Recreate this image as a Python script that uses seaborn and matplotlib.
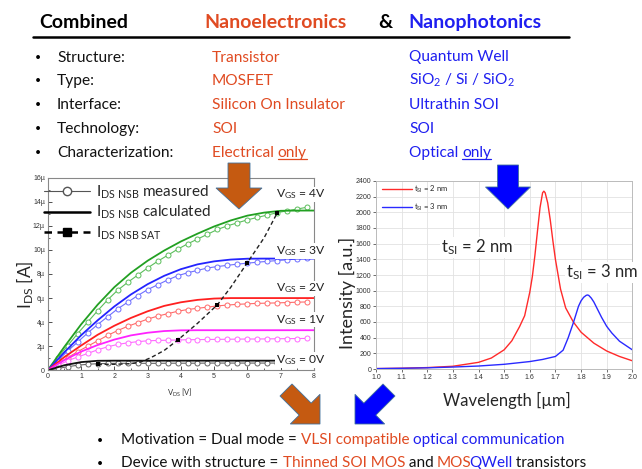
import matplotlib
matplotlib.use("Agg")
import matplotlib.pyplot as plt
import seaborn as sns
from matplotlib.lines import Line2D
from matplotlib.patches import FancyArrow
from matplotlib.transforms import IdentityTransform
from matplotlib.font_manager import findfont, FontProperties
from matplotlib.ft2font import FT2Font, LOAD_NO_HINTING

# ---------------- data ----------------
# Left chart: I_DS (in µA) vs V_DS (V)
calc_v = [0.0, 0.5, 1.0, 1.5, 2.0, 2.5, 3.0, 3.5, 4.0, 4.5, 5.0, 5.5, 6.0, 6.5, 7.0, 7.5, 8.0]
calc_4v = [0.0, 1.95, 3.8, 5.45, 6.9, 8.1, 9.1, 9.95, 10.7, 11.35, 11.95, 12.45, 12.85, 13.1, 13.25, 13.27, 13.27]
calc_3v = [0.0, 1.5, 2.9, 4.15, 5.3, 6.3, 7.15, 7.85, 8.4, 8.8, 9.05, 9.2, 9.27, 9.28, 9.28, 9.28, 9.28]
calc_2v = [0.0, 1.1, 2.05, 2.95, 3.7, 4.35, 4.9, 5.35, 5.65, 5.85, 5.96, 6.0, 6.0, 6.0, 6.0, 6.0, 6.0]
calc_1v = [0.0, 0.85, 1.55, 2.1, 2.55, 2.9, 3.12, 3.26, 3.32, 3.33, 3.33, 3.33, 3.33, 3.33, 3.33, 3.33, 3.33]
calc0_v = [0.0, 0.5, 1.0, 1.5, 2.0, 2.5, 3.0, 3.5, 4.0, 4.5, 5.0, 5.5, 6.0, 6.5, 6.9]
calc_0v = [0.0, 0.42, 0.68, 0.79, 0.8, 0.8, 0.8, 0.8, 0.8, 0.8, 0.8, 0.8, 0.8, 0.8, 0.8]

meas_v = [0.0, 0.3, 0.6, 0.9, 1.2, 1.5, 1.8, 2.1, 2.4, 2.7, 3.0, 3.3, 3.6, 3.9, 4.2, 4.5,
          4.8, 5.1, 5.4, 5.7, 6.0, 6.3, 6.6, 6.9, 7.2, 7.5, 7.8]
meas_4v = [0.0, 1.05, 2.05, 3.05, 4.0, 4.95, 5.85, 6.65, 7.3, 7.9, 8.5, 9.05, 9.55, 10.05, 10.5, 10.9,
           11.3, 11.7, 12.0, 12.25, 12.5, 12.7, 12.9, 13.1, 13.25, 13.4, 13.55]
meas_3v = [0.0, 0.8, 1.6, 2.35, 3.1, 3.8, 4.45, 5.1, 5.65, 6.2, 6.7, 7.1, 7.5, 7.85, 8.1, 8.3,
           8.5, 8.62, 8.72, 8.82, 8.9, 8.98, 9.05, 9.12, 9.18, 9.25, 9.32]
meas_2v = [0.0, 0.55, 1.05, 1.55, 2.0, 2.45, 2.9, 3.3, 3.65, 3.95, 4.25, 4.5, 4.7, 4.9, 5.05, 5.15,
           5.25, 5.35, 5.42, 5.48, 5.52, 5.56, 5.58, 5.6, 5.63, 5.66, 5.68]
meas_1v = [0.0, 0.4, 0.8, 1.1, 1.4, 1.7, 1.95, 2.15, 2.28, 2.38, 2.45, 2.48, 2.5, 2.52, 2.54, 2.55,
           2.56, 2.57, 2.58, 2.59, 2.6, 2.6, 2.61, 2.62, 2.63, 2.64, 2.65]
meas0_v = [0.0, 0.3, 0.6, 0.9, 1.2, 1.5, 1.8, 2.1, 2.4, 2.7, 3.0, 3.3, 3.6, 3.9, 4.2, 4.5,
           4.8, 5.1, 5.4, 5.7, 6.0, 6.3, 6.6, 6.9]
meas_0v = [0.0, 0.15, 0.3, 0.42, 0.5, 0.55, 0.57, 0.58, 0.58, 0.58, 0.58, 0.58, 0.59, 0.59, 0.59, 0.59,
           0.6, 0.6, 0.6, 0.6, 0.6, 0.6, 0.6, 0.6]

sat_curve_v = [1.5, 2.0, 2.5, 2.8, 3.1, 3.5, 3.9, 4.5, 5.1, 5.5, 6.0, 6.5, 6.9]
sat_curve_i = [0.5, 0.5, 0.55, 0.7, 1.05, 1.65, 2.5, 3.9, 5.45, 6.9, 8.95, 11.0, 13.1]
sat_pts_v = [1.5, 3.9, 5.1, 6.0, 6.9]
sat_pts_i = [0.5, 2.5, 5.45, 8.95, 13.1]

vgs_labels = ["4V", "3V", "2V", "1V", "0V"]
i_ticks = [0, 2, 4, 6, 8, 10, 12, 14, 16]
i_ticklabels = ["0", "2µ", "4µ", "6µ", "8µ", "10µ", "12µ", "14µ", "16µ"]

# Right chart: intensity vs wavelength
wl_2nm = [1.0, 1.1, 1.2, 1.3, 1.4, 1.45, 1.5, 1.53, 1.56, 1.58, 1.6, 1.61, 1.62, 1.63, 1.64,
          1.65, 1.655, 1.66, 1.67, 1.68, 1.69, 1.7, 1.72, 1.74, 1.77, 1.8, 1.85, 1.9, 1.95, 2.0]
int_2nm = [5, 10, 18, 35, 85, 140, 245, 360, 540, 680, 980, 1180, 1450, 1760, 2060,
           2250, 2270, 2250, 2120, 1900, 1640, 1400, 1020, 780, 600, 470, 330, 230, 160, 105]
wl_3nm = [1.0, 1.1, 1.2, 1.3, 1.4, 1.5, 1.6, 1.65, 1.7, 1.73, 1.75, 1.77, 1.79, 1.8, 1.81,
          1.82, 1.825, 1.83, 1.84, 1.85, 1.86, 1.88, 1.9, 1.92, 1.95, 2.0]
int_3nm = [5, 9, 15, 25, 38, 60, 95, 122, 160, 240, 400, 590, 800, 870, 915,
           940, 945, 940, 905, 855, 790, 660, 545, 460, 355, 245]
wl_ticks = [1.0, 1.1, 1.2, 1.3, 1.4, 1.5, 1.6, 1.7, 1.8, 1.9, 2.0]
int_ticks = [0, 200, 400, 600, 800, 1000, 1200, 1400, 1600, 1800, 2000, 2200, 2400]

# ---------------- style ----------------
sns.set_theme(style="white")
plt.rcParams['font.family'] = ['Lato', 'DejaVu Sans']
plt.rcParams['mathtext.fontset'] = 'custom'
plt.rcParams['mathtext.rm'] = 'Lato'
plt.rcParams['mathtext.it'] = 'Lato:italic'
plt.rcParams['mathtext.bf'] = 'Lato:bold'

W, H = 642, 469
fig = plt.figure(figsize=(W / 100, H / 100), dpi=100)
fig.patch.set_facecolor('white')


def fx(x):
    return x / W


def fy(y):
    return 1 - y / H


ORANGE_T = '#E04B22'
BLUE_T = '#1F1FF0'
ORANGE_A = '#C55A11'
BLUE_A = '#0000FF'
TICKFONT = 'Liberation Sans'

# ---------------- left chart ----------------
axL = fig.add_axes([fx(47.7), fy(370.3), (314 - 47.7) / W, (370.3 - 177.7) / H])
calc_series = [(calc_v, calc_4v, '#22A022'), (calc_v, calc_3v, '#2424FF'), (calc_v, calc_2v, '#FF2020'),
               (calc_v, calc_1v, '#FF22FF'), (calc0_v, calc_0v, '#111111')]
meas_series = [(meas_v, meas_4v, '#5BBE5B'), (meas_v, meas_3v, '#6E6EFF'), (meas_v, meas_2v, '#FF6A6A'),
               (meas_v, meas_1v, '#FF6AFF'), (meas0_v, meas_0v, '#666666')]
for xv, yv, c in meas_series:
    sns.lineplot(x=xv, y=yv, ax=axL, color=c, lw=0.8, marker='o', markersize=3.6,
                 markerfacecolor='white', markeredgecolor=c, markeredgewidth=0.7,
                 estimator=None, sort=False)
for xv, yv, c in calc_series:
    sns.lineplot(x=xv, y=yv, ax=axL, color=c, lw=1.3, estimator=None, sort=False)
sns.lineplot(x=sat_curve_v, y=sat_curve_i, ax=axL, color='#222222', lw=1.0, ls=(0, (3, 2)),
             estimator=None, sort=False)
sns.scatterplot(x=sat_pts_v, y=sat_pts_i, ax=axL, color='black', marker='s', s=9, zorder=5,
                edgecolor='black', linewidth=0)

axL.set_xlim(0, 8)
axL.set_ylim(0, 16)
axL.set_xticks(range(0, 9))
axL.set_yticks(i_ticks)
axL.set_yticklabels(i_ticklabels)
axL.set_xticks([x + 0.5 for x in range(8)], minor=True)
axL.set_yticks([y + 1 for y in range(0, 16, 2)], minor=True)
axL.tick_params(axis='both', which='major', direction='in', length=3, width=0.6, labelsize=5,
                colors='#333333', pad=2, left=True, bottom=True)
axL.tick_params(axis='both', which='minor', direction='in', length=1.5, width=0.5, left=True, bottom=True)
for lab in axL.get_xticklabels() + axL.get_yticklabels():
    lab.set_family(TICKFONT)
for s in axL.spines.values():
    s.set_color('#888888')
    s.set_linewidth(0.8)

vgs_pos = [(7.6, 14.6), (7.6, 9.9), (7.6, 6.8), (7.6, 4.2), (7.6, 0.85)]
for lab, (xv, yv) in zip(vgs_labels, vgs_pos):
    axL.text(xv, yv, r"V$_{\mathrm{GS}}$ = " + lab, ha='center', va='center', fontsize=8.7,
             color='#222222', clip_on=False, zorder=6,
             bbox=dict(fc='white', ec='none', pad=0.6))

handles = [Line2D([], [], color='#555555', lw=0.8, marker='o', markersize=6, markerfacecolor='white',
                  markeredgecolor='#555555'),
           Line2D([], [], color='black', lw=1.8),
           Line2D([], [], color='black', lw=1.8, ls=(0, (3, 2.2)), marker='s', markersize=6)]
labels = [r"I$_{\mathrm{DS\ NSB}}$ measured", r"I$_{\mathrm{DS\ NSB}}$ calculated", r"I$_{\mathrm{DS\ NSB\ SAT}}$"]
axL.legend(handles, labels, loc='upper left', bbox_to_anchor=(fx(44), fy(183.5)),
           bbox_transform=fig.transFigure, frameon=False, fontsize=11, handlelength=3.0,
           handletextpad=0.4, labelspacing=0.2, borderpad=0, borderaxespad=0)

fig.text(fx(25), fy(285), r"I$_{\mathrm{DS}}$ [A]", rotation=90, fontsize=12.5, ha='center', va='center')
fig.text(fx(180), fy(393), r"V$_{\mathrm{DS}}$ [V]", fontsize=5.5, ha='center', va='center', color='#333333')

# ---------------- right chart ----------------
axR = fig.add_axes([fx(376), fy(369), (632.3 - 376) / W, (369 - 181) / H])
sns.lineplot(x=wl_2nm, y=int_2nm, ax=axR, color='#FF2A2A', lw=1.0, estimator=None, sort=False,
             label=r"t$_{\mathrm{SI}}$ = 2 nm")
sns.lineplot(x=wl_3nm, y=int_3nm, ax=axR, color='#2A2AFF', lw=1.0, estimator=None, sort=False,
             label=r"t$_{\mathrm{SI}}$ = 3 nm")
axR.set_xlim(1.0, 2.0)
axR.set_ylim(0, 2400)
axR.set_xticks(wl_ticks)
axR.set_xticklabels([f"{v:.1f}" for v in wl_ticks])
axR.set_yticks(int_ticks)
axR.set_yticklabels([str(v) for v in int_ticks])
axR.grid(True, color='#E2E2E2', lw=0.6)
axR.tick_params(axis='both', which='major', direction='out', length=2, width=0.5, labelsize=5,
                colors='#333333', pad=1.5, left=True, bottom=True)
for lab in axR.get_xticklabels() + axR.get_yticklabels():
    lab.set_family(TICKFONT)
for s in axR.spines.values():
    s.set_color('#BBBBBB')
    s.set_linewidth(0.7)
axR.legend(loc='upper left', bbox_to_anchor=(0.01, 1.0), frameon=False, fontsize=5.5,
           handlelength=4, handletextpad=0.3, labelspacing=0.9, borderaxespad=0)
axR.text(1.394, 1557, r"t$_{\mathrm{SI}}$ = 2 nm", fontsize=12, ha='center', va='center',
         bbox=dict(fc='white', ec='none', pad=0.5))
axR.text(1.882, 1238, r"t$_{\mathrm{SI}}$ = 3 nm", fontsize=12, ha='center', va='center', clip_on=False,
         zorder=6, bbox=dict(fc='white', ec='none', pad=0.5))
fig.text(fx(347), fy(293), "Intensity [a.u.]", rotation=90, fontsize=13, ha='center', va='center',
         bbox=dict(fc='white', ec='none', pad=0.3))
fig.text(fx(507), fy(400), "Wavelength [µm]", fontsize=12, ha='center', va='center')

# ---------------- slide text ----------------
_font_cache = {}


def advance(s, size, weight='normal'):
    key = (weight, size)
    if key not in _font_cache:
        f = FT2Font(findfont(FontProperties(family='Lato', weight=weight)))
        f.set_size(size, 100)
        _font_cache[key] = f
    f = _font_cache[key]
    total = 0.0
    for ch in s:
        g = f.load_char(ord(ch), flags=LOAD_NO_HINTING)
        total += g.linearHoriAdvance / 65536
    return total


def seq_text(x, y, parts, size, weight='normal', underline=()):
    cur = x
    n = len(parts)
    for i, (s, c) in enumerate(parts):
        nxt = parts[i + 1][0] if i + 1 < n else " "
        if not s.endswith(" ") and not nxt.startswith(" "):
            # glued to the next word: right-align this part on the join point
            end = cur + advance(s, size, weight)
            fig.text(fx(end), fy(y), s, color=c, fontsize=size, fontweight=weight, ha='right',
                     va='baseline')
            cur = end - 2.5
            continue
        fig.text(fx(cur), fy(y), s, color=c, fontsize=size, fontweight=weight, ha='left', va='baseline')
        if s.strip() in underline:
            w = advance(s.strip(), size, weight)
            fig.add_artist(Line2D([fx(cur), fx(cur + w)], [fy(y + 2.2), fy(y + 2.2)], color=c, lw=0.9))
        cur += advance(s, size, weight)


seq_text(39, 28.3, [("Combined", 'black')], 14, 'bold')
seq_text(204, 28.3, [("Nanoelectronics", ORANGE_T)], 14, 'bold')
seq_text(378, 28.3, [("&", 'black')], 14, 'bold')
seq_text(408, 28.3, [("Nanophotonics", BLUE_T)], 14, 'bold')
fig.add_artist(Line2D([fx(33), fx(569)], [fy(37.5), fy(37.5)], color='black', lw=1.8))

rows = [("Structure:", [("Transistor", ORANGE_T)], [("Quantum Well", BLUE_T)]),
        ("Type:", [("MOSFET", ORANGE_T)], [("SiO$_2$ / Si / SiO$_2$", BLUE_T)]),
        ("Interface:", [("Silicon On Insulator", ORANGE_T)], [("Ultrathin SOI", BLUE_T)]),
        ("Technology:", [("SOI", ORANGE_T)], [("SOI", BLUE_T)]),
        ("Characterization:", [("Electrical ", ORANGE_T), ("only", ORANGE_T)],
         [("Optical ", BLUE_T), ("only", BLUE_T)])]
baselines = [61.5, 85, 109, 133, 157]
for (lab, c2, c3), yb in zip(rows, baselines):
    fig.text(fx(35), fy(yb - 1.5), "•", fontsize=7.5, color='black', va='baseline')
    seq_text(57, yb, [(lab, '#111111')], 11.2)
    seq_text(212, yb, c2, 11.2, underline=("only",))
    seq_text(409, yb, c3, 11.2, underline=("only",))

fig.text(fx(97), fy(442.5), "•", fontsize=7.5, color='black', va='baseline')
seq_text(121, 444, [("Motivation = Dual mode = ", '#111111'), ("VLSI compatible ", ORANGE_T),
                    ("optical communication", BLUE_T)], 11.0)
fig.text(fx(97), fy(465.5), "•", fontsize=7.5, color='black', va='baseline')
seq_text(121, 467, [("Device with structure = ", '#111111'), ("Thinned SOI MOS", ORANGE_T),
                    (" and ", '#111111'), ("MOS", ORANGE_T), ("QWell", BLUE_T),
                    (" transistors", '#111111')], 11.0)

# ---------------- block arrows (pixel coordinates, y down) ----------------
def block_arrow(x0, y0, x1, y1, width, head_width, head_length, color):
    arr = FancyArrow(x0, H - y0, x1 - x0, -(y1 - y0), width=width, head_width=head_width,
                     head_length=head_length, length_includes_head=True,
                     transform=IdentityTransform(), facecolor=color, edgecolor='#41719C',
                     linewidth=0.6, zorder=4)
    fig.add_artist(arr)


block_arrow(239, 163, 239, 209, 22, 46, 21, ORANGE_A)
block_arrow(508, 165, 508, 209, 21, 45, 22, BLUE_A)
block_arrow(286, 390, 320, 424, 17, 42, 21, ORANGE_A)
block_arrow(389, 390, 355, 424, 17, 42, 21, BLUE_A)

fig.savefig("out.png", dpi=100, facecolor='white')
